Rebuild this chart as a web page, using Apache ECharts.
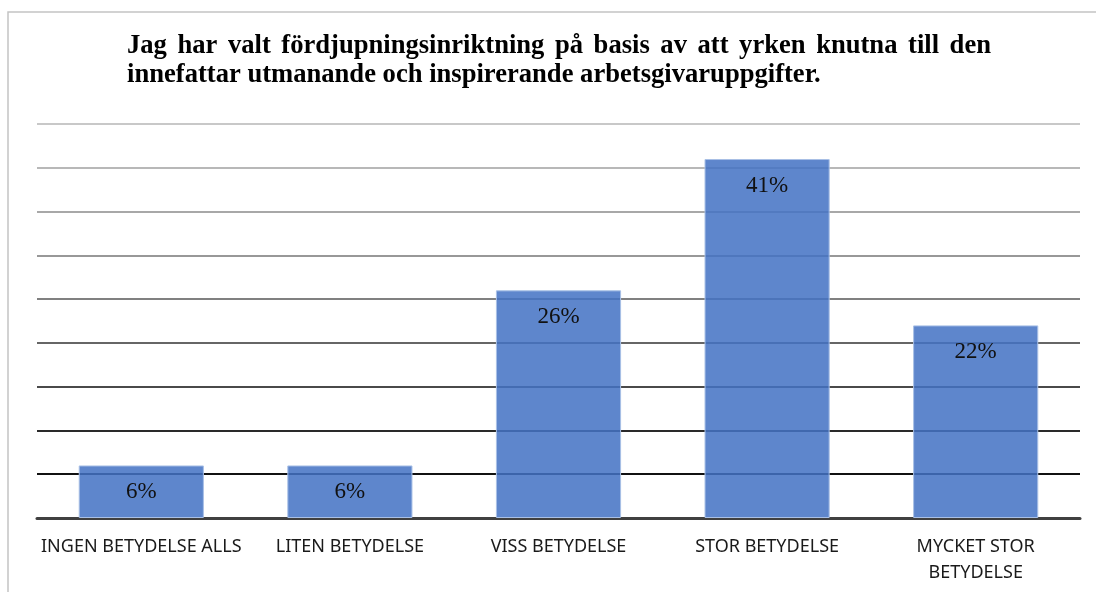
<!DOCTYPE html>
<html><head><meta charset="utf-8">
<script src="https://cdn.jsdelivr.net/npm/echarts@6/dist/echarts.min.js"></script>
<style>html,body{margin:0;padding:0;background:#fff}#c{width:1096px;height:592px}</style>
</head><body><div id="c"></div>
<script>
const titleLines = ['Jag har valt fördjupningsinriktning på basis av att yrken knutna till den', 'innefattar utmanande och inspirerande arbetsgivaruppgifter.'];
const categories = ['INGEN BETYDELSE ALLS', 'LITEN BETYDELSE', 'VISS BETYDELSE', 'STOR BETYDELSE', 'MYCKET STOR\nBETYDELSE'];
const values = [6, 6, 26, 41, 22];
const yMin = 0, yMax = 45, yStep = 5;

const titleFont = 'bold 26.6px "Liberation Serif"';
const titleLeft = 127, titleRight = 991;
// justify the first title line (word-by-word, widths measured)
const ctx = document.createElement('canvas').getContext('2d');
ctx.font = titleFont;
const words = titleLines[0].split(' ');
const widths = words.map(w => ctx.measureText(w).width);
const total = widths.reduce((a, b) => a + b, 0);
const gap = (titleRight - titleLeft - total) / (words.length - 1);
const titleGraphics = [];
let xPos = titleLeft;
words.forEach((w, i) => {
  titleGraphics.push({type: 'text', x: xPos, y: 33, style: {text: w, font: titleFont, fill: '#000'}});
  xPos += widths[i] + gap;
});
titleGraphics.push({type: 'text', x: titleLeft, y: 62, style: {text: titleLines[1], font: titleFont, fill: '#000'}});

const chart = echarts.init(document.getElementById('c'));
chart.setOption({
  animation: false,
  graphic: [
    {type: 'rect', shape: {x: 8, y: 12, width: 1100, height: 600}, style: {fill: 'none', stroke: '#c4c4c4', lineWidth: 1.5}, silent: true}
  ].concat(titleGraphics),
  grid: {left: 37, right: 16, top: 124, bottom: 74},
  xAxis: {
    type: 'category', data: categories,
    axisLine: {lineStyle: {color: '#404040', width: 3}},
    axisTick: {show: false},
    axisLabel: {interval: 0, color: '#1a1a1a', fontSize: 18, fontFamily: '"Noto Sans"', margin: 16, lineHeight: 26}
  },
  yAxis: {
    type: 'value', min: yMin, max: yMax, interval: yStep,
    axisLabel: {show: false}, axisLine: {show: false}, axisTick: {show: false},
    splitLine: {lineStyle: {width: 2, color: ['#404040', '#111111', '#2a2a2a', '#4a4a4a', '#666666', '#808080', '#989898', '#a8a8a8', '#b8b8b8', '#c8c8c8']}}
  },
  series: [{
    type: 'bar', data: values, barWidth: '60%',
    itemStyle: {color: 'rgba(68,114,196,0.86)', borderColor: '#a9c0e6', borderWidth: 1},
    label: {show: true, position: 'insideTop', distance: 15, formatter: '{c}%', color: '#111', fontSize: 23, fontFamily: '"Liberation Serif"'}
  }]
});
</script></body></html>
